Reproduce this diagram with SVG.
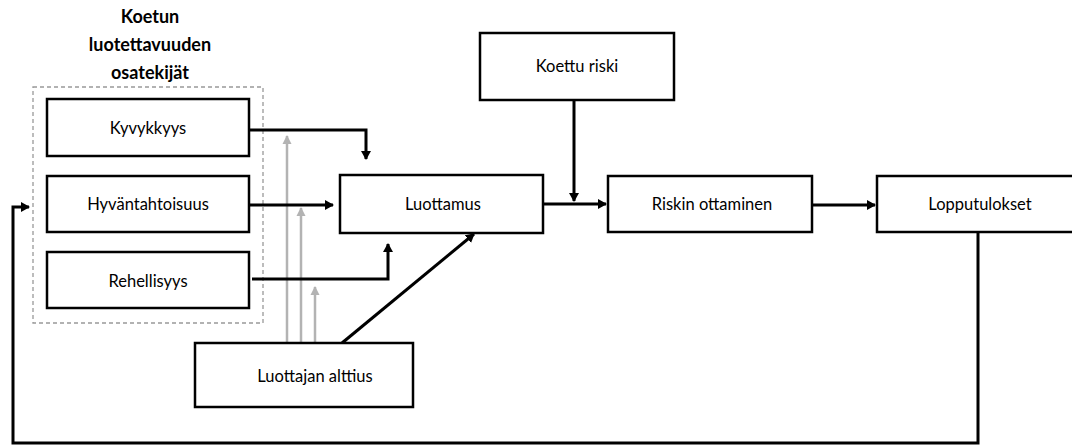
<svg xmlns="http://www.w3.org/2000/svg" width="1072" height="445" viewBox="0 0 1072 445">
<style>
.box{fill:#fff;stroke:#000;stroke-width:2.5}
.lbl{font-family:Lato,"Liberation Sans",sans-serif;font-size:16.5px;fill:#000;text-anchor:middle;dominant-baseline:central}
.title{font-family:Lato,"Liberation Sans",sans-serif;font-size:18px;font-weight:bold;fill:#000;text-anchor:middle}
.c{fill:none;stroke:#000;stroke-width:3}
.g{fill:none;stroke:#b3b3b3;stroke-width:2.5}
</style>
<defs>
<marker id="ab" markerWidth="10" markerHeight="10" refX="8" refY="5" orient="auto" markerUnits="userSpaceOnUse"><path d="M0,0 L9,5 L0,10 z" fill="#000"/></marker>
<marker id="ag" markerWidth="10" markerHeight="10" refX="8" refY="5" orient="auto" markerUnits="userSpaceOnUse"><path d="M0,0.5 L9,5 L0,9.5 z" fill="#b3b3b3"/></marker>
</defs>
<rect width="1072" height="445" fill="#fff"/>
<g id="group-title">
<text class="title" x="150" y="23">Koetun</text>
<text class="title" x="150" y="51">luotettavuuden</text>
<text class="title" x="150" y="79">osatekijät</text>
<rect x="33" y="87" width="230" height="236" fill="none" stroke="#999" stroke-width="1.3" stroke-dasharray="4,3"/>
</g>
<g id="connectors">
<path class="g" d="M287,343 V136" marker-end="url(#ag)"/>
<path class="g" d="M301,343 V208" marker-end="url(#ag)"/>
<path class="g" d="M315,343 V287" marker-end="url(#ag)"/>
<path class="c" d="M249,130 H366 V159" marker-end="url(#ab)"/>
<path class="c" d="M249,205 H333" marker-end="url(#ab)"/>
<path class="c" d="M252,279 H388 V244" marker-end="url(#ab)"/>
<path class="c" d="M342,343 L474,234" marker-end="url(#ab)"/>
<path class="c" d="M574,100 V201" marker-end="url(#ab)"/>
<path class="c" d="M543,204 H606" marker-end="url(#ab)"/>
<path class="c" d="M812,205 H875" marker-end="url(#ab)"/>
<path class="c" d="M978,232 V443 H13 V207 H29" marker-end="url(#ab)"/>
</g>
<g id="kyvykkyys"><rect class="box" x="47" y="99" width="202" height="57"/><text class="lbl" x="148" y="128">Kyvykkyys</text></g>
<g id="hyvantahtoisuus"><rect class="box" x="47" y="176" width="202" height="56"/><text class="lbl" x="148" y="204">Hyväntahtoisuus</text></g>
<g id="rehellisyys"><rect class="box" x="47" y="252" width="202" height="56"/><text class="lbl" x="148" y="281">Rehellisyys</text></g>
<g id="luottamus"><rect class="box" x="340" y="175" width="203" height="58"/><text class="lbl" x="443" y="204">Luottamus</text></g>
<g id="koettu-riski"><rect class="box" x="480" y="33" width="194" height="67"/><text class="lbl" x="577" y="66">Koettu riski</text></g>
<g id="riskin-ottaminen"><rect class="box" x="608" y="176" width="204" height="56"/><text class="lbl" x="712" y="204">Riskin ottaminen</text></g>
<g id="lopputulokset"><rect class="box" x="877" y="176" width="210" height="56"/><text class="lbl" x="980" y="204">Lopputulokset</text></g>
<g id="luottajan-alttius"><rect class="box" x="195" y="343" width="218" height="64"/><text class="lbl" x="315" y="376">Luottajan alttius</text></g>
</svg>
